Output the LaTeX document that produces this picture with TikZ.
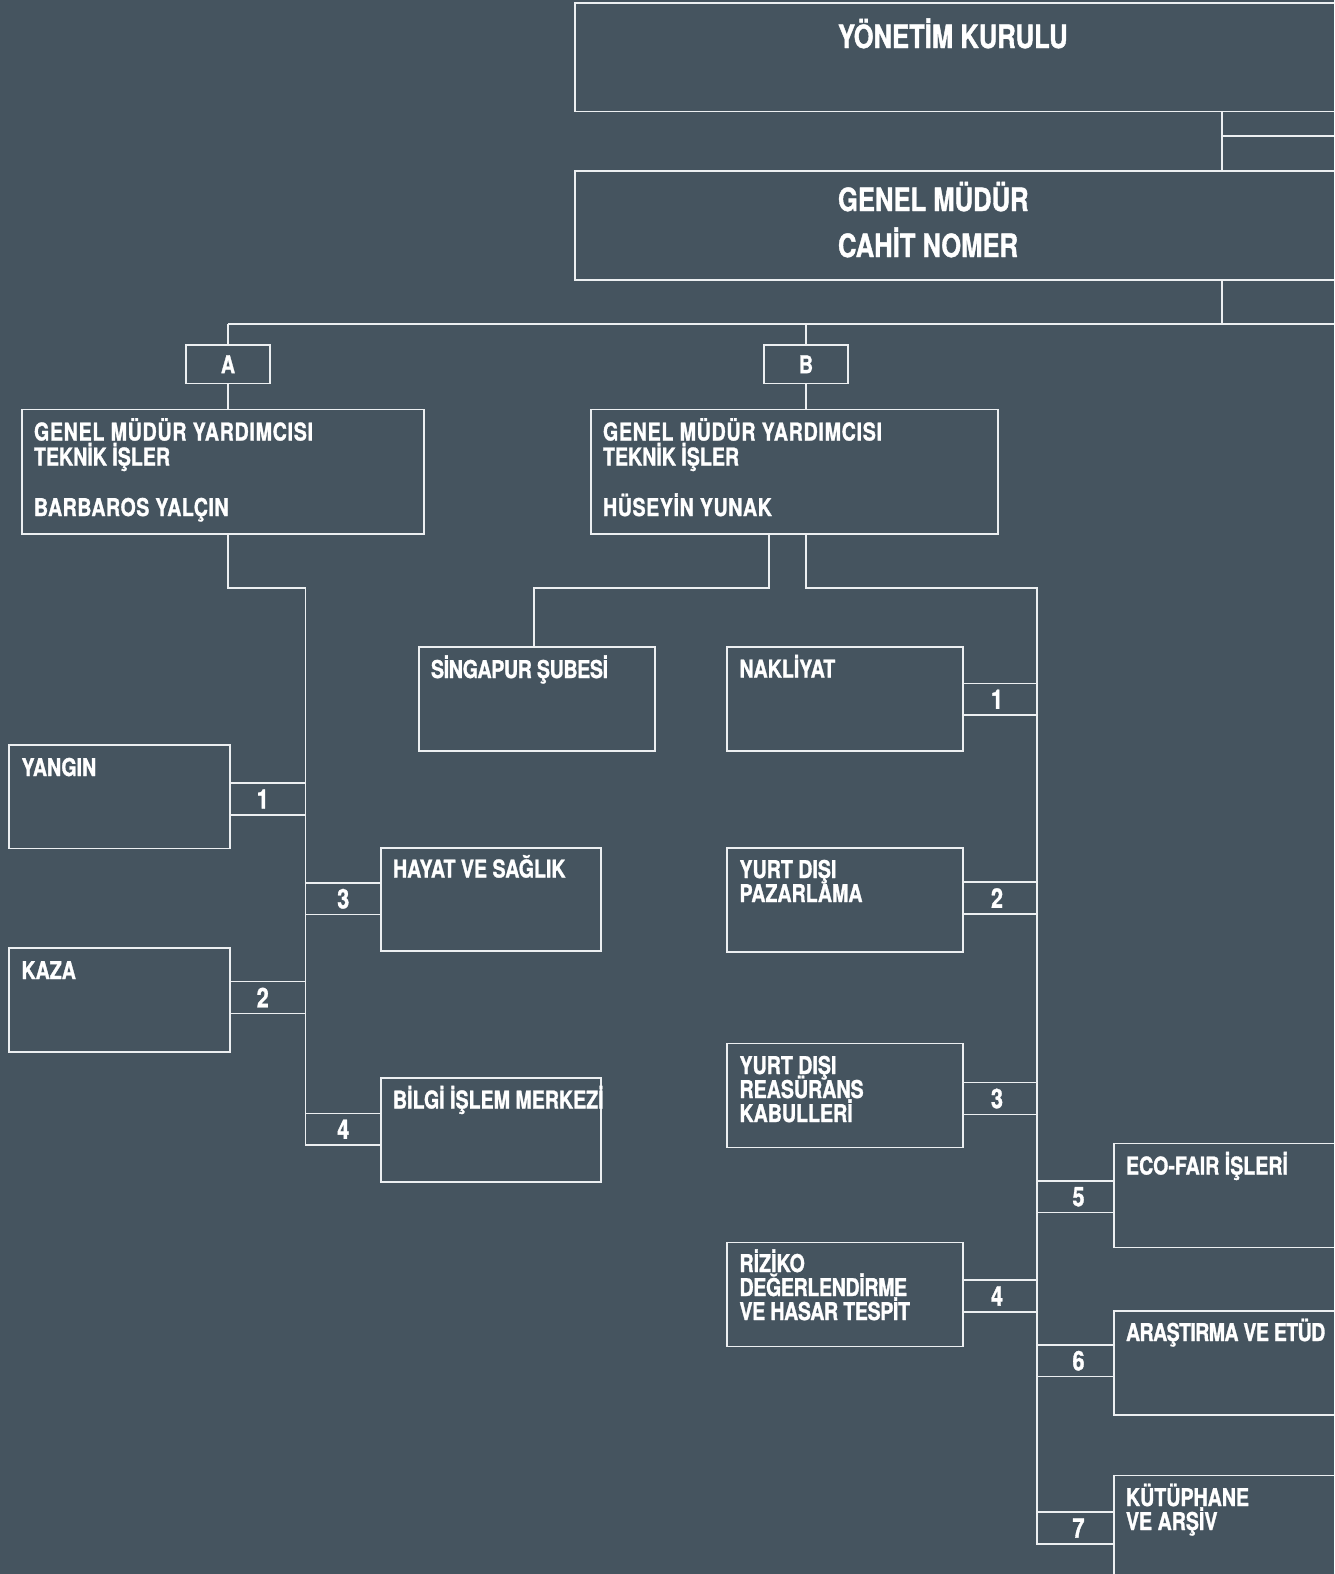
\documentclass[tikz,border=0pt]{standalone}
\usepackage{fontspec}
\setmainfont{TeX Gyre Heros}[FakeStretch=0.8,FakeBold=1.2]
\definecolor{bgc}{RGB}{69,84,95}
\definecolor{lnc}{RGB}{236,239,241}
\tikzset{
  ln/.style={draw=lnc, line width=1.25pt},
  bx/.style={ln, rectangle, inner sep=0pt, outer sep=0pt, anchor=north west},
  lb/.style={bx, text=white, font=\fontsize{27}{27}\selectfont\bfseries},
  tx/.style={anchor=base west, inner sep=0pt, outer sep=0pt, text=white, font=\fontsize{24.5}{24}\selectfont\bfseries},
  ttl/.style={tx, font=\fontsize{32}{40}\selectfont\bfseries}
}
\newcommand\obox[5]{\node[bx, minimum width={#4-#2}, minimum height={#5-#3}] (#1) at (#2,#3) {};}
\newcommand\lbox[6]{\node[lb, minimum width={#4-#2}, minimum height={#5-#3}] (#1) at (#2,#3) {#6};}
\newcommand\tline[4]{\node[tx] (#1) at (#2,#3) {#4};}
\newcommand\lsp[2]{{\addfontfeature{LetterSpace=#1}#2}}
\begin{document}
\begin{tikzpicture}[x=1pt,y=-1pt]
\useasboundingbox (0,0) rectangle (1334,1574);
\fill[bgc] (0,0) rectangle (1334,1574);
\clip (0,0) rectangle (1334,1574);

% boxes
\obox{yk}{575}{3}{1345}{111.5}
\obox{gm}{575}{171}{1345}{280}
\node[bx, minimum width=84, minimum height=38.5, text=white, font=\fontsize{24.5}{24}\selectfont\bfseries] (A) at (186,345) {A};
\node[bx, minimum width=84, minimum height=38.5, text=white, font=\fontsize{24.5}{24}\selectfont\bfseries] (B) at (764,345) {B};
\obox{gmyA}{22}{409.5}{424}{534}
\obox{gmyB}{591}{409.5}{998}{534}
\obox{yangin}{9}{745}{230}{848.5}
\obox{kaza}{9}{948}{230}{1052}
\obox{hayat}{381}{848}{601}{951}
\obox{bilgi}{381}{1078}{601}{1182}
\obox{singapur}{419}{647}{655}{751}
\obox{nakliyat}{727}{647}{963}{751}
\obox{pazarlama}{727}{848}{963}{952}
\obox{reasurans}{727}{1043.5}{963}{1147.5}
\obox{riziko}{727}{1242.5}{963}{1346.5}
\obox{ecofair}{1114}{1143.5}{1345}{1247.5}
\obox{arastirma}{1114}{1311}{1345}{1415}
\obox{kutuphane}{1114}{1475.5}{1345}{1600}

% numbered connector boxes
\lbox{l1}{230}{783}{305.5}{815}{\hspace*{-10pt}1}
\lbox{l2}{230}{981.5}{305.5}{1013.5}{\hspace*{-10pt}2}
\lbox{l3}{305.5}{883}{381}{914.5}{3}
\lbox{l4}{305.5}{1113.5}{381}{1145}{4}
\lbox{r1}{963}{683.5}{1037}{715}{\hspace*{-6pt}1}
\lbox{r2}{963}{882}{1037}{914}{\hspace*{-6pt}2}
\lbox{r3}{963}{1082.5}{1037}{1114.5}{\hspace*{-6pt}3}
\lbox{r4}{963}{1280}{1037}{1312}{\hspace*{-6pt}4}
\lbox{r5}{1037}{1181}{1114}{1212.5}{\hspace*{6pt}5}
\lbox{r6}{1037}{1345}{1114}{1376.5}{\hspace*{6pt}6}
\lbox{r7}{1037}{1512}{1114}{1544}{\hspace*{6pt}7}

% texts
\node[ttl] (tyk) at (838,48) {YÖNETİM KURULU};
\node[ttl] (tgm1) at (838,211) {GENEL MÜDÜR};
\node[ttl] (tgm2) at (838,257) {CAHİT NOMER};

\tline{ta1}{34}{440.5}{\lsp{3}{GENEL MÜDÜR YARDIMCISI}}
\tline{ta2}{34}{465.5}{TEKNİK İŞLER}
\tline{ta3}{34}{516}{\lsp{2}{BARBAROS YALÇIN}}
\tline{tb1}{603}{440.5}{\lsp{3}{GENEL MÜDÜR YARDIMCISI}}
\tline{tb2}{603}{465.5}{TEKNİK İŞLER}
\tline{tb3}{603}{516}{\lsp{2.5}{HÜSEYİN YUNAK}}

\tline{tyan}{21.5}{776}{YANGIN}
\tline{tkaz}{21.5}{979}{KAZA}
\tline{thay}{393}{877.5}{HAYAT VE SAĞLIK}
\tline{tbil}{393}{1108.5}{BİLGİ İŞLEM MERKEZİ}
\tline{tsin}{431}{678}{\lsp{-1.5}{SİNGAPUR ŞUBESİ}}
\tline{tnak}{739.5}{677.5}{NAKLİYAT}
\tline{tpz1}{739.5}{878}{YURT DIŞI}
\tline{tpz2}{739.5}{902}{PAZARLAMA}
\tline{trs1}{739.5}{1074}{YURT DIŞI}
\tline{trs2}{739.5}{1098}{REASÜRANS}
\tline{trs3}{739.5}{1122}{KABULLERİ}
\tline{trz1}{739.5}{1272}{RİZİKO}
\tline{trz2}{739.5}{1296}{\lsp{-1.5}{DEĞERLENDİRME}}
\tline{trz3}{739.5}{1320}{\lsp{-1.5}{VE HASAR TESPİT}}
\tline{teco}{1126}{1174.5}{ECO-FAIR İŞLERİ}
\tline{tara}{1126}{1341}{\lsp{-2.5}{ARAŞTIRMA VE ETÜD}}
\tline{tku1}{1126}{1506}{KÜTÜPHANE}
\tline{tku2}{1126}{1530}{VE ARŞİV}

% connector coordinates
\coordinate (vx) at (1222,0);
\coordinate (stub) at (1345,136);
\coordinate (bus) at (1345,324);
\coordinate (tl) at (305.5,588);
\coordinate (sgx) at (769,588);
\coordinate (sgd) at (534,588);
\coordinate (tr) at (1037,588);

% connectors
\draw[ln] (yk.south -| vx) -- (gm.north -| vx);
\draw[ln] (vx |- stub) -- (stub);
\draw[ln] (gm.south -| vx) -- (vx |- bus);
\draw[ln] (A.north |- bus) -- (bus);
\draw[ln] (A.north |- bus) -- (A.north);
\draw[ln] (A.south) -- (A.south |- gmyA.north);
\draw[ln] (B.north |- bus) -- (B.north);
\draw[ln] (B.south) -- (B.south |- gmyB.north);
\draw[ln] (A.south |- gmyA.south) -- (A.south |- tl) -- (tl) -- (tl |- l4.south);
\draw[ln] (sgx |- gmyB.south) -- (sgx) -- (sgd) -- (sgd |- singapur.north);
\draw[ln] (B.south |- gmyB.south) -- (B.south |- tr) -- (tr) -- (tr |- r7.south);
\end{tikzpicture}
\end{document}
